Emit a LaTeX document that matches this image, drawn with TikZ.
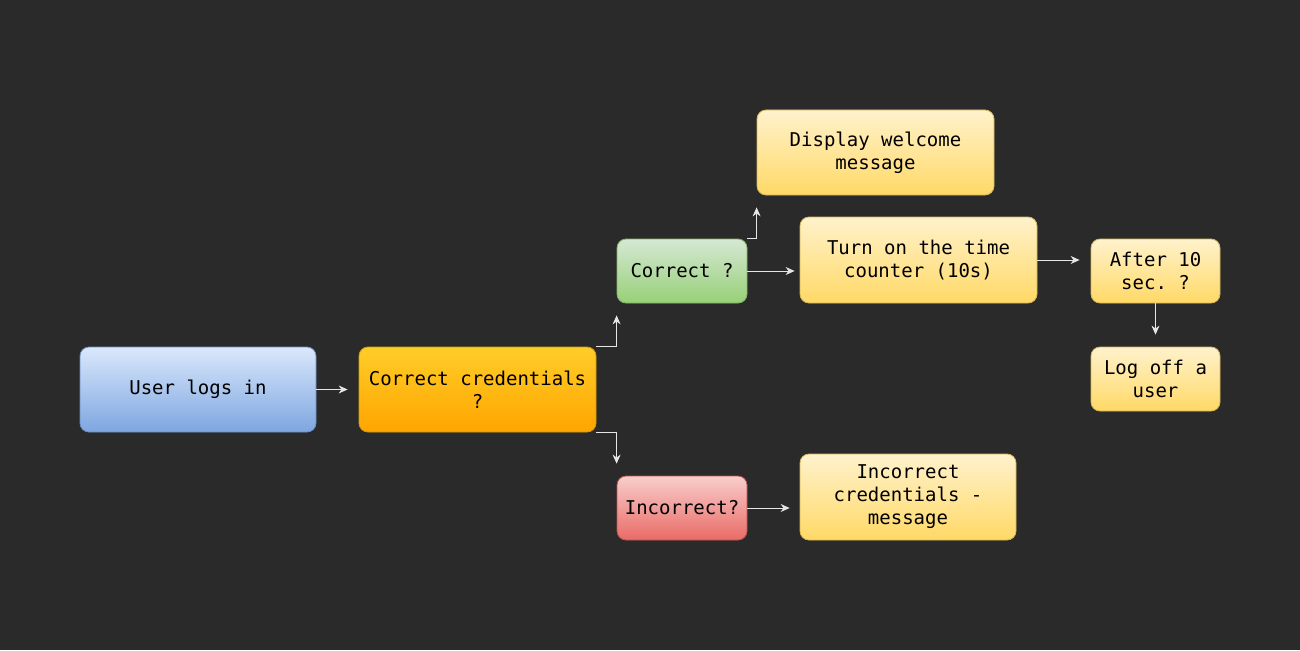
\documentclass[tikz,border=0pt]{standalone}
\usepackage{fontspec}
\setmonofont{DejaVu Sans Mono}
\usetikzlibrary{arrows.meta,calc}
\definecolor{bg}{HTML}{2A2A2A}
\definecolor{arr}{HTML}{E6E6E6}
\tikzset{
  box/.style={rounded corners=9pt, line width=0.8pt, align=center, inner sep=2pt,
    font=\ttfamily\fontsize{19}{23}\selectfont, text=black},
  blueb/.style={box, draw=blueS, top color=blueT, bottom color=blueB},
  orangeb/.style={box, draw=orangeS, top color=orangeT, bottom color=orangeB},
  greenb/.style={box, draw=greenS, top color=greenT, bottom color=greenB},
  redb/.style={box, draw=redS, top color=redT, bottom color=redB},
  yellowb/.style={box, draw=yelS, top color=yelT, bottom color=yelB},
  conn/.style={draw=arr, line width=0.8pt, -{Stealth[length=9pt,width=8pt]}},
}
\definecolor{blueS}{HTML}{6C8EBF}\definecolor{blueT}{HTML}{DAE8FC}\definecolor{blueB}{HTML}{7EA6E0}
\definecolor{orangeS}{HTML}{D79B00}\definecolor{orangeT}{HTML}{FFCD28}\definecolor{orangeB}{HTML}{FFA500}
\definecolor{greenS}{HTML}{82B366}\definecolor{greenT}{HTML}{D5E8D4}\definecolor{greenB}{HTML}{97D077}
\definecolor{redS}{HTML}{B85450}\definecolor{redT}{HTML}{F8CECC}\definecolor{redB}{HTML}{EA6B66}
\definecolor{yelS}{HTML}{D6B656}\definecolor{yelT}{HTML}{FFF2CC}\definecolor{yelB}{HTML}{FFD966}
\begin{document}
\begin{tikzpicture}[x=1pt,y=-1pt]
\fill[bg] (0,0) rectangle (1300,650);
\useasboundingbox (0,0) rectangle (1300,650);
\node[blueb, minimum width=236pt, minimum height=85pt] (ul) at (198,389.5) {User logs in};
\node[orangeb, minimum width=237pt, minimum height=85pt] (cc) at (477.5,389.5) {Correct credentials\\?};
\node[greenb, minimum width=130pt, minimum height=64pt] (c) at (682,271) {Correct ?};
\node[redb, minimum width=130pt, minimum height=64pt] (inc) at (682,508) {Incorrect?};
\node[yellowb, minimum width=237pt, minimum height=85pt] (dw) at (875.5,152.5) {Display welcome\\message};
\node[yellowb, minimum width=237pt, minimum height=86pt] (to) at (918.5,260) {Turn on the time\\counter (10s)};
\node[yellowb, minimum width=129pt, minimum height=64pt] (af) at (1155.5,271) {After 10\\sec. ?};
\node[yellowb, minimum width=129pt, minimum height=64pt] (lo) at (1155.5,379) {Log off a\\user};
\node[yellowb, minimum width=216pt, minimum height=86pt] (icm) at (908,497) {Incorrect\\credentials -\\message};
\draw[conn, shorten >=11pt] (ul.east) -- (cc.west);
\draw[conn, shorten >=12pt] (cc.north east) -| (c.south west);
\draw[conn, shorten >=12pt] (cc.south east) -| (inc.north west);
\draw[conn, shorten >=12pt] (c.north east) -| (dw.south west);
\draw[conn, shorten >=5pt] (c.east) -- (c.east -| to.west);
\draw[conn, shorten >=10pt] (inc.east) -- (inc.east -| icm.west);
\draw[conn, shorten >=11pt] (to.east) -- (to.east -| af.west);
\draw[conn, shorten >=12pt] (af.south) -- (lo.north);
\end{tikzpicture}
\end{document}
